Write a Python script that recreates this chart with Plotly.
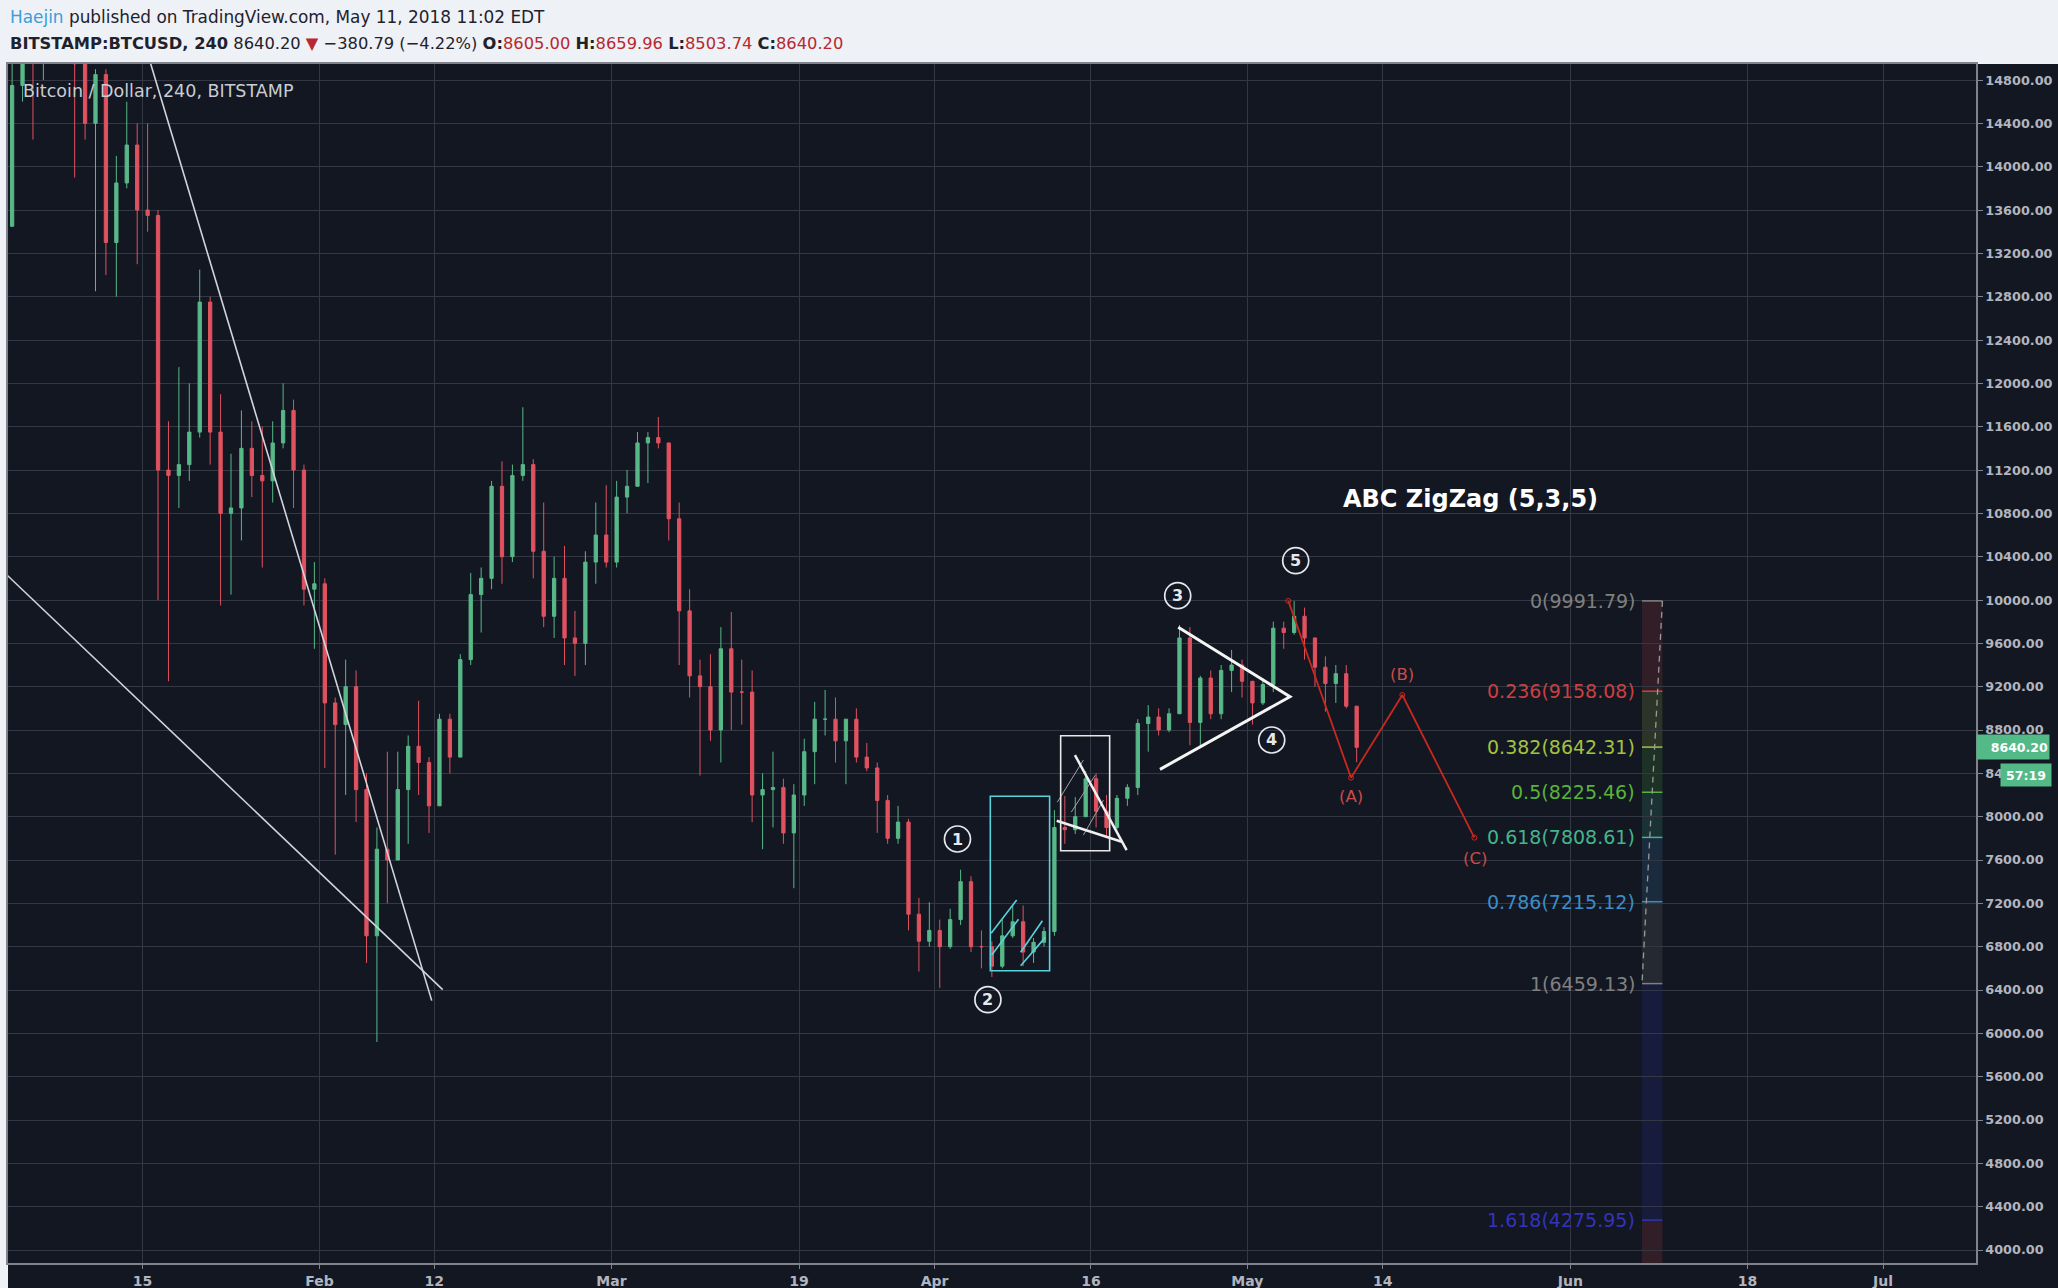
import plotly.graph_objects as go
import pandas as pd

# ---------------- price data (daily) ----------------
first_day = "2018-01-02"
opens = [13450,14750,15100,15050,16950,17100,16150,14950,14400,14850,13300,13850,14200,13600,13550,
         11200,11150,11250,11550,12750,11550,10800,10850,11400,11150,11100,11450,11750,11200,10100,
         10150,9050,8850,9200,8250,6900,7700,7600,8250,8650,8500,8100,8900,8550,9450,10050,10200,
         11050,10400,11150,11250,10450,9850,10200,9650,9600,10350,10600,
         10350,10950,11050,11450,11500,11450,10750,9900,9300,9200,8800,9550,9150,9150,8200,8250,8270,
         7850,8200,8600,8900,8900,8700,8900,8550,8450,8150,7800,7950,7100,6850,
         6950,6800,7050,7400,6800,6800,6620,6900,7030,6750,6840,6940,7900,7880,8000,8350,8050,7900,
         8170,8270,8860,8920,8800,8950,9650,8870,9280,8950,9350,9400,
         9250,9050,9220,9740,9700,9850,9650,9380,9230,9320,9020]
highs = [15300,15400,15300,17100,17250,17150,16300,15400,14900,14900,14100,14600,14400,14400,13600,
         11650,12150,12000,13050,12800,11900,11350,11750,11650,11600,11650,12000,11850,11250,10350,
         10200,9100,9450,9350,8400,7900,8600,8600,8750,9070,8550,8950,8950,9500,10250,10300,11100,
         11280,11250,11780,11300,10900,10400,10500,9900,10450,10900,11060,
         11100,11200,11550,11550,11690,11450,10900,10100,9450,9500,9750,9890,9450,9350,8400,8600,8350,
         8300,8720,9060,9170,9100,8900,9000,8680,8500,8200,8100,7980,7250,7210,
         7050,7150,7510,7450,6950,6850,7050,7185,7180,6880,6980,8060,8190,8180,8420,8400,8200,8200,
         8300,8900,9030,9000,9000,9770,9750,9300,9350,9400,9540,9450,
         9250,9280,9800,9800,9990,9930,9650,9480,9400,9400,9020]
lows = [13600,14600,14250,14800,16300,15900,13900,14250,12850,13000,12800,13800,13100,13400,10000,
        9250,10850,11100,11500,11250,9950,10050,10550,10950,10300,10900,11400,10850,9950,9550,
        8450,7650,8200,7950,6650,5920,7200,7600,7750,8200,7850,8100,8400,8550,9400,9700,10100,
        10150,10350,11100,10200,9750,9650,9400,9300,9400,10150,10300,
        10300,10800,11050,11080,11400,10550,9400,9100,8380,8700,8500,8800,8850,7950,7700,7900,7750,
        7340,8100,8300,8750,8500,8300,8500,8420,7850,7750,7750,6950,6570,6800,
        6420,6780,7000,6750,6600,6520,6600,6880,6620,6650,6800,6900,7750,7840,8000,7900,7820,7880,
        8100,8200,8600,8750,8780,8950,8660,8650,8900,8900,9150,9100,
        8850,9030,9150,9550,9680,9450,9200,8970,9050,9000,8503.74]
closes = [14750,15100,15050,16950,17100,16150,14950,14400,14850,13300,13850,14200,13600,13550,11200,
          11150,11250,11550,12750,11550,10800,10850,11400,11150,11100,11450,11750,11200,10100,10150,
          9050,8850,9200,8250,6900,7700,7600,8250,8650,8500,8100,8900,8550,9450,10050,10200,11050,
          10400,11150,11250,10450,9850,10200,9650,9600,10350,10600,10350,
          10950,11050,11450,11500,11450,10750,9900,9300,9200,8800,9550,9150,9150,8200,8250,8270,7850,
          8200,8600,8900,8900,8700,8900,8550,8450,8150,7800,7950,7100,6850,6950,
          6800,7050,7400,6800,6800,6620,6900,7030,6750,6840,6940,7900,7880,8000,8350,8050,7900,8170,
          8270,8860,8920,8800,8950,9650,8870,9280,8950,9350,9400,9250,
          9050,9220,9740,9700,9850,9650,9380,9230,9320,9020,8640.20]
dates = pd.date_range(first_day, periods=len(opens), freq="D") + pd.Timedelta(hours=12)

last_price = 8640.20
countdown = "57:19"

# ---------------- axes ----------------
tick_dates = ["2018-01-15", "2018-02-01", "2018-02-12", "2018-03-01", "2018-03-19", "2018-04-01",
              "2018-04-16", "2018-05-01", "2018-05-14", "2018-06-01", "2018-06-18", "2018-07-01"]
tick_labels = ["15", "Feb", "12", "Mar", "19", "Apr", "16", "May", "14", "Jun", "18", "Jul"]
price_ticks = list(range(4000, 14801, 400))
price_labels = [f"{v:.2f}" for v in price_ticks]
x_range = ["2018-01-02 02:31", "2018-07-09 22:05"]
y_range = [3880, 14948]

# ---------------- drawings (time in days since 2018-01-01, price) ----------------
trend_days = [[14.5, 41.76], [0.5, 42.81]]
trend_prices = [[15044, 6302], [10277, 6403]]
cyan_box = [95.35, 101.04, 6578, 8188]
cyan_days = [[95.43, 97.88], [95.49, 98.06], [98.26, 100.35], [98.26, 100.63]]
cyan_prices = [[6923, 7231], [6723, 7053], [6748, 7040], [6624, 6886]]
white_box = [102.10, 106.80, 7686, 8747]
wedge_days = [[103.47, 108.43], [101.72, 107.96]]
wedge_prices = [[8569, 7692], [7963, 7769]]
inner_days = [[101.78, 104.28], [103.12, 105.42], [104.28, 106.20]]
inner_prices = [[8134, 8523], [8042, 8383], [7830, 8152]]
tri_days = [113.38, 124.10, 111.63]
tri_prices = [9748, 9107, 8437]
zig_days = [123.94, 129.96, 134.88, 141.79]
zig_prices = [9991.79, 8360, 9123, 7806]
wave_text = ["1", "2", "3", "4", "5"]
wave_days = [92.2, 95.12, 113.33, 122.35, 124.65]
wave_prices = [7794, 6311, 10040, 8708, 10363]
abc_text = ["(A)", "(B)", "(C)"]
abc_days = [129.92, 134.83, 141.85]
abc_prices = [8184, 9311, 7618]
pattern_title = "ABC ZigZag (5,3,5)"
pattern_day, pattern_price = 141.44, 10935

fib_top = 9991.79
fib_bottom = 6459.13
fib_ratios = [0, 0.236, 0.382, 0.5, 0.618, 0.786, 1, 1.618, 2.618]
fib_colors = ["#808080", "#cc3f3f", "#a4c23f", "#58b33a", "#43b58c", "#3d8cc6", "#808080", "#3333bb", "#cc3f3f"]
fib_start, fib_end = "2018-06-07 21:00", "2018-06-09 20:00"

BASE = pd.Timestamp("2018-01-01")
def at(d):
    return BASE + pd.Timedelta(days=d)

def ats(lst):
    return [at(d) for d in lst]

# ---------------- figure geometry ----------------
W, H = 2058, 1288
L, R, T, B = 8, 82, 64, 25
PW, PH = W - L - R, H - T - B
def px(x):
    return (x - L) / PW
def py(y):
    return (H - B - y) / PH

BG = "#131722"
GRID = "#343845"
AXIS = "#80838c"
TXT = "#b2b5be"
UP, DOWN = "#58b888", "#e05260"
FONT = "DejaVu Sans"
WHITE = "#e6e8ee"

fig = go.Figure()

fig.add_trace(go.Candlestick(
    x=dates, open=opens, high=highs, low=lows, close=closes,
    increasing=dict(line=dict(color=UP, width=1), fillcolor=UP),
    decreasing=dict(line=dict(color=DOWN, width=1), fillcolor=DOWN),
    whiskerwidth=0, hoverinfo="skip", showlegend=False))

def seg(xs, ys, color, width, dash=None, mode="lines"):
    fig.add_trace(go.Scatter(x=xs, y=ys, mode=mode, line=dict(color=color, width=width, dash=dash),
                             hoverinfo="skip", showlegend=False))

for d, p in zip(trend_days, trend_prices):
    seg(ats(d), p, "#d1d4dc", 1.6)
for d, p in zip(cyan_days, cyan_prices):
    seg(ats(d), p, "#5ad2dc", 1.6)
for d, p in zip(inner_days, inner_prices):
    seg(ats(d), p, "#a0a3ab", 1)
for d, p in zip(wedge_days, wedge_prices):
    seg(ats(d), p, "#f0f0f0", 2.5)
seg(ats(tri_days), tri_prices, "#f5f5f5", 3)

fig.add_trace(go.Scatter(x=ats(zig_days), y=zig_prices, mode="lines+markers",
                         line=dict(color="#c8281e", width=1.8),
                         marker=dict(symbol="circle-open", size=5, color="#c8281e", line=dict(width=1)),
                         hoverinfo="skip", showlegend=False))

shapes = []
# boxes
shapes.append(dict(type="rect", xref="x", yref="y", x0=at(cyan_box[0]), x1=at(cyan_box[1]),
                   y0=cyan_box[2], y1=cyan_box[3], line=dict(color="#5ad2dc", width=1.6), layer="above"))
shapes.append(dict(type="rect", xref="x", yref="y", x0=at(white_box[0]), x1=at(white_box[1]),
                   y0=white_box[2], y1=white_box[3], line=dict(color="#e8e8e8", width=1.6), layer="above"))

# fib retracement
levels = [fib_top - r * (fib_top - fib_bottom) for r in fib_ratios]
for i in range(len(levels) - 1):
    shapes.append(dict(type="rect", xref="x", yref="y", x0=fib_start, x1=fib_end,
                       y0=levels[i + 1], y1=levels[i], fillcolor=fib_colors[i + 1], opacity=0.17,
                       line=dict(width=0), layer="below"))
annotations = []
for r, lv, c in zip(fib_ratios[:-1], levels[:-1], fib_colors[:-1]):
    seg([fib_start, fib_end], [lv, lv], c, 1.5)
    annotations.append(dict(x=fib_start, y=lv, xref="x", yref="y", text=f"{r:g}({lv:.2f})",
                            showarrow=False, xanchor="right", yanchor="middle", xshift=-5,
                            font=dict(family=FONT, size=19, color=c)))
seg([fib_end, fib_start], [levels[0], levels[6]], "#9a9a9a", 1.3, dash="6px,5px")

# header background and left strip
shapes.append(dict(type="rect", xref="paper", yref="paper", x0=px(0), x1=px(W), y0=py(T), y1=py(0),
                   fillcolor="#eef1f5", line=dict(width=0), layer="below"))
shapes.append(dict(type="rect", xref="paper", yref="paper", x0=px(0), x1=px(L), y0=py(H), y1=py(0),
                   fillcolor="#eef1f5", line=dict(width=0), layer="below"))

# Elliott wave labels: circle + digit
for t, d, p in zip(wave_text, wave_days, wave_prices):
    shapes.append(dict(type="circle", xref="x", yref="y", xsizemode="pixel", ysizemode="pixel",
                       xanchor=at(d), yanchor=p, x0=-13, x1=13, y0=-13, y1=13,
                       line=dict(color=WHITE, width=1.7), layer="above"))
    annotations.append(dict(x=at(d), y=p, xref="x", yref="y", text=t, showarrow=False,
                            font=dict(family=FONT, size=16, color=WHITE, weight="bold")))
for t, d, p in zip(abc_text, abc_days, abc_prices):
    annotations.append(dict(x=at(d), y=p, xref="x", yref="y", text=t, showarrow=False,
                            font=dict(family=FONT, size=16.5, color="#cc4b48")))
annotations.append(dict(x=at(pattern_day), y=pattern_price, xref="x", yref="y", text=pattern_title,
                        showarrow=False, font=dict(family=FONT, size=24, color="#ffffff", weight="bold")))
annotations.append(dict(x=px(21), y=py(90.5), xref="paper", yref="paper",
                        text="Bitcoin / Dollar, 240, BITSTAMP", showarrow=False, xanchor="left",
                        yanchor="middle", font=dict(family=FONT, size=17.5, color="#c9ccd3")))

RED = "#b8282e"
annotations.append(dict(x=px(8), y=py(17), xref="paper", yref="paper", xanchor="left", yanchor="middle",
                        showarrow=False, font=dict(family=FONT, size=16.9, color="#1e222d"),
                        text="<span style='color:#3b9fd8'>Haejin</span> published on TradingView.com, May 11, 2018 11:02 EDT"))
annotations.append(dict(x=px(8), y=py(43), xref="paper", yref="paper", xanchor="left", yanchor="middle",
                        showarrow=False, font=dict(family=FONT, size=16.3, color="#1e222d"),
                        text=("<b>BITSTAMP:BTCUSD, 240</b> 8640.20 <span style='color:%s'>▼</span> −380.79 (−4.22%%) "
                              "<b>O:</b><span style='color:%s'>8605.00</span> <b>H:</b><span style='color:%s'>8659.96</span> "
                              "<b>L:</b><span style='color:%s'>8503.74</span> <b>C:</b><span style='color:%s'>8640.20</span>")
                        % (RED, RED, RED, RED, RED)))

# last price and countdown tags
annotations.append(dict(x=px(1976), y=last_price, xref="paper", yref="y", xanchor="left", yanchor="middle",
                        showarrow=False, text=f"{last_price:.2f}", width=70, height=22, align="right",
                        bgcolor="#53b987", borderpad=1,
                        font=dict(family=FONT, size=12.5, color="#ffffff", weight="bold")))
annotations.append(dict(x=px(2000), y=py(774.5), xref="paper", yref="paper", xanchor="left", yanchor="middle",
                        showarrow=False, text=countdown, width=48, height=20, align="center",
                        bgcolor="#53b987", borderpad=1,
                        font=dict(family=FONT, size=12.5, color="#ffffff", weight="bold")))

fig.update_layout(
    template="none", width=W, height=H,
    margin=dict(l=L, r=R, t=T, b=B, pad=0),
    paper_bgcolor=BG, plot_bgcolor=BG,
    boxgap=0.55, showlegend=False, hovermode=False,
    shapes=shapes, annotations=annotations,
    xaxis=dict(type="date", range=x_range, tickvals=tick_dates, ticktext=tick_labels,
               showgrid=True, gridcolor=GRID, gridwidth=1, zeroline=False,
               showline=True, linecolor=AXIS, linewidth=1.5, mirror=True,
               ticks="outside", ticklen=4, tickcolor=AXIS, automargin=False,
               rangeslider=dict(visible=False),
               tickfont=dict(family=FONT, size=14, color=TXT, weight="bold")),
    yaxis=dict(range=y_range, side="right", tickvals=price_ticks, ticktext=price_labels,
               showgrid=True, gridcolor=GRID, gridwidth=1, zeroline=False,
               showline=True, linecolor=AXIS, linewidth=1.5, mirror=True,
               ticks="outside", ticklen=5, tickcolor=AXIS, automargin=False,
               tickfont=dict(family=FONT, size=12.8, color=TXT, weight="bold")),
)

fig.write_html("out.html")
